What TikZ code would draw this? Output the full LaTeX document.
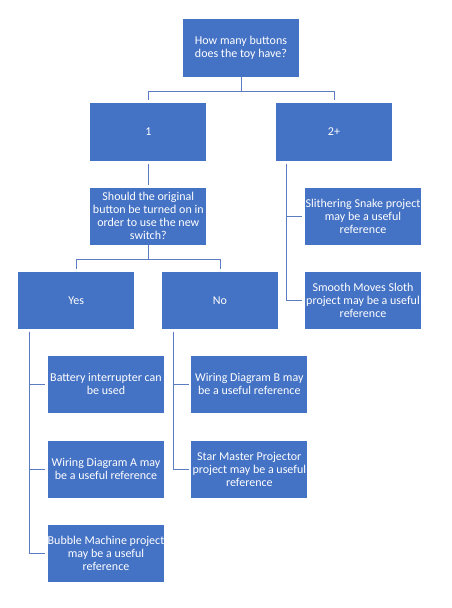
\documentclass[tikz,border=0pt]{standalone}
\usepackage{fontspec}
\setmainfont{Carlito}
\begin{document}
\begin{tikzpicture}[x=1pt,y=-1pt,
  box/.style={draw=none,fill=boxblue,text=white,minimum width=116pt,minimum height=57pt,
    inner sep=0pt,align=center,font=\fontsize{12}{13}\selectfont},
  conn/.style={draw=lineblue,line width=1pt,shorten <=2.5pt,shorten >=2.5pt}]
\definecolor{boxblue}{HTML}{4472C4}
\definecolor{lineblue}{HTML}{5B7DC0}
\useasboundingbox[fill=white] (0,0) rectangle (452,608);
\node[box,minimum height=58pt] (top) at (241,48) {How many buttons\\does the toy have?};
\node[box,minimum height=58pt] (one) at (148.3,132) {1};
\node[box,minimum height=58pt] (two) at (334,132) {2+};
\node[box] (should) at (148.3,216.3) {Should the original\\button be turned on in\\order to use the new\\switch?};
\node[box] (yes) at (76.3,300.3) {Yes};
\node[box] (no) at (220,300.3) {No};
\node[box] (snake) at (363,216.3) {Slithering Snake project\\may be a useful\\reference};
\node[box] (sloth) at (363,300.3) {Smooth Moves Sloth\\project may be a useful\\reference};
\node[box] (bat) at (106,384.3) {Battery interrupter can\\be used};
\node[box] (wa) at (106,469) {Wiring Diagram A may\\be a useful reference};
\node[box] (bub) at (106,553) {Bubble Machine project\\may be a useful\\reference};
\node[box] (wb) at (249.3,384.3) {Wiring Diagram B may\\be a useful reference};
\node[box] (star) at (249.3,469) {Star Master Projector\\project may be a useful\\reference};
\draw[conn,shorten <=0pt] (top.south) -- ++(0,14) -| (one.north);
\draw[conn,shorten <=0pt] (top.south) -- ++(0,14) -| (two.north);
\draw[conn] (one.south) -- (should.north);
\draw[conn,shorten <=0pt] (should.south) -- ++(0,14) -| (yes.north);
\draw[conn,shorten <=0pt] (should.south) -- ++(0,14) -| (no.north);
\draw[conn] ([xshift=11.3pt]yes.south west) |- (bat.west);
\draw[conn] ([xshift=11.3pt]yes.south west) |- (wa.west);
\draw[conn] ([xshift=11.3pt]yes.south west) |- (bub.west);
\draw[conn] ([xshift=11.3pt]no.south west) |- (wb.west);
\draw[conn] ([xshift=11.3pt]no.south west) |- (star.west);
\draw[conn] ([xshift=10.7pt]two.south west) |- (snake.west);
\draw[conn] ([xshift=10.7pt]two.south west) |- (sloth.west);
\end{tikzpicture}
\end{document}
